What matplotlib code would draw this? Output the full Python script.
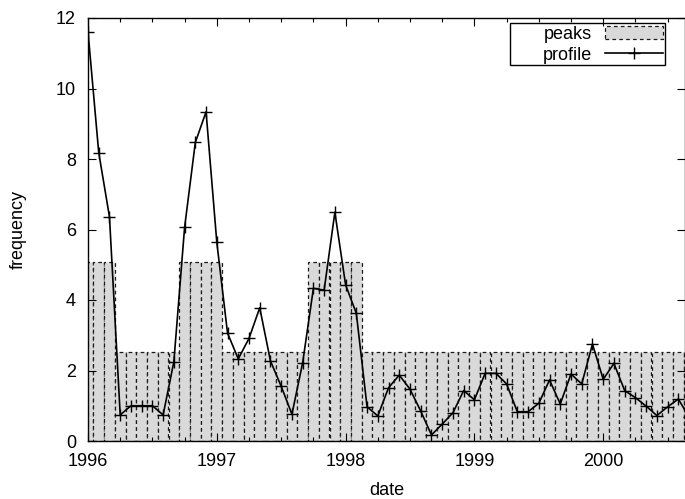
import numpy as np
import matplotlib
matplotlib.use("Agg")
import matplotlib.pyplot as plt
from matplotlib.patches import Patch, Rectangle
from matplotlib.lines import Line2D
from matplotlib.ticker import MultipleLocator

plt.rcParams['font.family'] = ['Liberation Sans', 'DejaVu Sans']
plt.rcParams['font.size'] = 13

# monthly series starting Jan 1996
start_year = 1996
profile = [11.61, 8.18, 6.36, 0.74, 1.00, 1.00, 1.00, 0.74, 2.25, 6.06, 8.47, 9.34,
           5.64, 3.06, 2.33, 2.91, 3.78, 2.27, 1.55, 0.76, 2.22, 4.33, 4.28, 6.49,
           4.43, 3.62, 0.97, 0.71, 1.51, 1.87, 1.47, 0.85, 0.17, 0.48, 0.80, 1.43,
           1.17, 1.92, 1.92, 1.62, 0.83, 0.83, 1.07, 1.73, 1.05, 1.90, 1.62, 2.75,
           1.75, 2.20, 1.43, 1.23, 0.99, 0.72, 0.97, 1.19, 0.68]
high, low = 5.07, 2.53
peaks = [high] * 3 + [low] * 6 + [high] * 4 + [low] * 8 + [high] * 5 + [low] * 31
year_ticks = [1996, 1997, 1998, 1999, 2000]

t = start_year + np.arange(len(profile)) / 12.0
dash = (0, (3, 2.5))

fig = plt.figure(figsize=(6.85, 4.99), dpi=100)
ax = fig.add_axes([88 / 685, 1 - 441 / 499, 597 / 685, 423 / 499])

ax.bar(t, peaks, width=1 / 12, color='#d9d9d9', edgecolor='#1a1a1a',
       linestyle=dash, linewidth=0.9, zorder=1)
ax.plot(t, profile, color='black', linewidth=1.2, marker='+',
        markersize=8, markeredgewidth=1.0, zorder=3)

ax.set_xlim(1996, 1996 + 597 / 128.8)
ax.set_ylim(0, 12)
ax.set_xticks(year_ticks)
ax.set_xticklabels([str(y) for y in year_ticks])
ax.xaxis.set_minor_locator(MultipleLocator(0.25))
ax.yaxis.set_major_locator(MultipleLocator(2))

ax.tick_params(which='both', direction='in', top=True, right=True, width=0.8)
ax.tick_params(which='major', length=6)
ax.tick_params(which='minor', length=3)
ax.tick_params(axis='x', pad=8.5)
ax.tick_params(axis='y', pad=8.6)
for s in ax.spines.values():
    s.set_linewidth(1.0)

ax.set_xlabel('date', labelpad=9)
ax.set_ylabel('frequency', labelpad=21)

# key: labels right-aligned, samples on the right, plain box around it
handles = [Patch(facecolor='#d9d9d9', edgecolor='#1a1a1a', linestyle=dash, linewidth=0.9),
           Line2D([], [], color='black', linewidth=1.2, marker='+', markersize=8, markeredgewidth=1.0)]
leg = ax.legend(handles, ['peaks', 'profile'], loc='upper right',
                bbox_to_anchor=((665 - 88) / 597, (441 - 24) / 423), borderaxespad=0,
                markerfirst=False, frameon=False, handlelength=3.2,
                handletextpad=0.75, labelspacing=0.22, borderpad=0.1)
ax.add_patch(Rectangle(((510 - 88) / 597, (441 - 65) / 423), 155 / 597, 42 / 423,
                       transform=ax.transAxes, fill=False, edgecolor='black',
                       linewidth=1.0, zorder=5))

fig.savefig('out.png', dpi=100)
